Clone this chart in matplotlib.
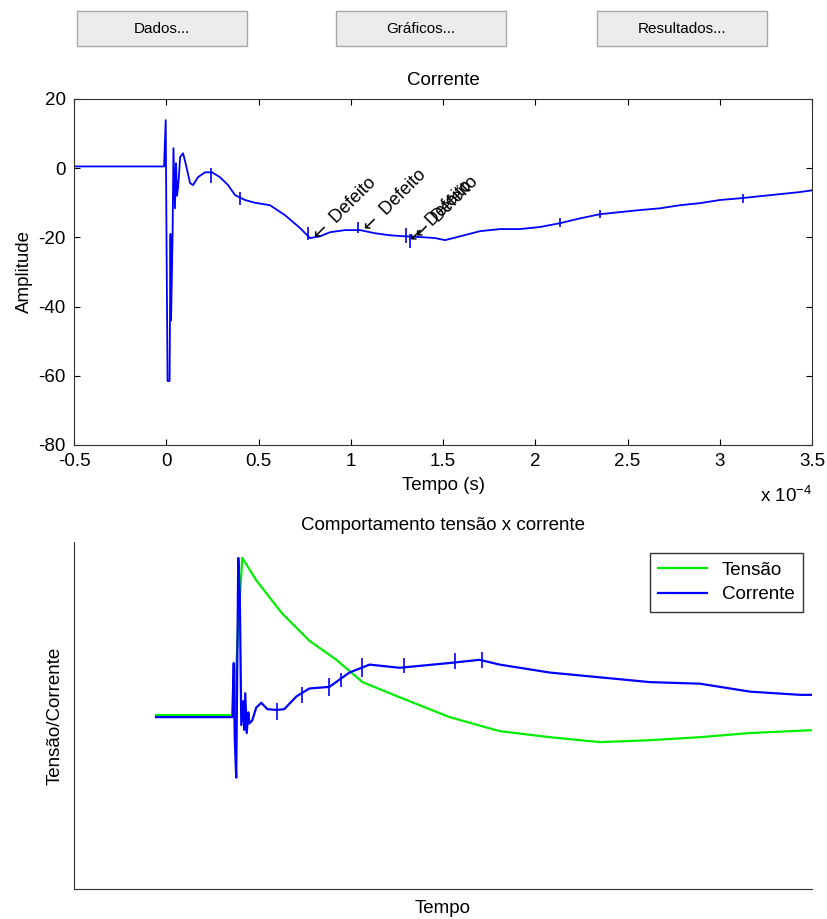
import numpy as np
import matplotlib
matplotlib.use("Agg")
import matplotlib.pyplot as plt
from matplotlib.patches import Rectangle

plt.rcParams['font.family'] = ['Liberation Sans', 'DejaVu Sans']
plt.rcParams['font.size'] = 13.5
plt.rcParams['axes.unicode_minus'] = False
plt.rcParams['mathtext.fontset'] = 'custom'
plt.rcParams['mathtext.rm'] = 'Liberation Sans'

# ---- top chart: corrente (tempo em unidades de 1e-4 s) ----
t_corr = [-0.5, -0.034, -0.012, -0.003, 0.001, 0.007, 0.018, 0.023, 0.026, 0.034,
          0.039, 0.047, 0.053, 0.058, 0.064, 0.069, 0.075, 0.091, 0.107, 0.129,
          0.145, 0.172, 0.210, 0.248, 0.291, 0.335, 0.373, 0.427, 0.481, 0.562,
          0.644, 0.725, 0.779, 0.833, 0.888, 0.969, 1.050, 1.131, 1.213, 1.294,
          1.375, 1.457, 1.511, 1.592, 1.701, 1.809, 1.917, 2.026, 2.134, 2.243,
          2.351, 2.459, 2.568, 2.676, 2.785, 2.893, 3.001, 3.110, 3.218, 3.327,
          3.435, 3.500]
a_corr = [0.5, 0.5, 0.5, 13.9, -18.0, -61.5, -61.5, -19.0, -44.0, -20.0,
          5.8, -11.6, 1.4, -8.0, -5.5, -2.0, 3.2, 4.3, 0.9, -4.3,
          -4.9, -2.6, -1.2, -1.2, -2.6, -4.9, -7.8, -9.2, -10.0, -10.7,
          -13.6, -17.3, -20.2, -19.7, -18.5, -17.9, -17.9, -18.8, -19.4, -19.7,
          -19.9, -20.2, -20.8, -19.7, -18.2, -17.6, -17.6, -17.0, -15.9, -14.5,
          -13.3, -12.7, -12.1, -11.6, -10.7, -10.1, -9.2, -8.7, -8.1, -7.5,
          -6.9, -6.4]

# pequenos picos de ruido na corrente
t_glitch = [0.243, 0.40, 0.768, 1.039, 1.30, 1.321, 2.134, 2.351, 3.126]
a_glitch_lo = [-4.3, -10.7, -20.8, -18.8, -21.7, -23.0, -17.0, -14.5, -10.0]
a_glitch_hi = [0.0, -7.0, -17.0, -15.6, -17.3, -19.0, -14.5, -12.0, -7.5]

# defeitos marcados
t_def = [0.795, 1.066, 1.32, 1.35]
a_def = [-20.8, -18.5, -21.7, -20.5]

x_ticks = [-0.5, 0, 0.5, 1, 1.5, 2, 2.5, 3, 3.5]
x_ticklabels = ['-0.5', '0', '0.5', '1', '1.5', '2', '2.5', '3', '3.5']
y_ticks = [-80, -60, -40, -20, 0, 20]

# ---- bottom chart: tensao x corrente (normalizado) ----
t_i = [-0.5, -0.035, -0.026, -0.020, -0.011, 0.0015, 0.011, 0.020, 0.032, 0.038,
       0.044, 0.053, 0.063, 0.069, 0.087, 0.111, 0.142, 0.179, 0.234, 0.282,
       0.356, 0.435, 0.557, 0.679, 0.802, 0.985, 1.290, 1.473, 1.595, 1.901,
       2.206, 2.511, 2.817, 3.122, 3.427, 3.501]
v_i = [0.0, 0.0, 0.34, -0.13, -0.38, 1.0, 0.76, -0.05, 0.10, -0.08,
       0.15, -0.10, 0.03, -0.04, -0.02, 0.06, 0.09, 0.05, 0.045, 0.05,
       0.13, 0.18, 0.19, 0.28, 0.33, 0.31, 0.34, 0.36, 0.33, 0.28,
       0.25, 0.22, 0.21, 0.16, 0.14, 0.14]
ti_glitch = [0.240, 0.392, 0.557, 0.630, 0.759, 1.015, 1.32, 1.49]
vi_glitch_lo = [-0.02, 0.09, 0.13, 0.19, 0.25, 0.28, 0.30, 0.31]
vi_glitch_hi = [0.09, 0.19, 0.245, 0.28, 0.37, 0.37, 0.40, 0.41]

t_v = [-0.5, -0.023, 0.0015, 0.026, 0.111, 0.270, 0.435, 0.600, 0.759, 0.985,
       1.290, 1.595, 1.901, 2.206, 2.511, 2.817, 3.122, 3.5]
v_v = [0.013, 0.013, 0.6, 1.0, 0.86, 0.65, 0.48, 0.36, 0.22, 0.125,
       0.0, -0.088, -0.126, -0.157, -0.145, -0.126, -0.10, -0.082]

fig = plt.figure(figsize=(8.27, 9.19), dpi=100)

# botoes
buttons = ['Dados...', 'Gráficos...', 'Resultados...']
btn_left = [77, 336, 597]
for lbl, x0 in zip(buttons, btn_left):
    r = Rectangle((x0 / 827, 1 - 46 / 919), 170 / 827, 35 / 919,
                  transform=fig.transFigure, facecolor='#ececec',
                  edgecolor='#a8a8a8', lw=1.0)
    fig.patches.append(r)
    fig.text((x0 + 85) / 827, 1 - 29 / 919, lbl, ha='center', va='center', fontsize=11)

# grafico de cima
ax1 = fig.add_axes([0.0895, 0.5158, 0.8924, 0.3765])
ax1.plot(t_corr, a_corr, color='#0000ff', lw=1.3)
ax1.vlines(t_glitch, a_glitch_lo, a_glitch_hi, color='#0000ff', lw=1.2)
for t, a in zip(t_def, a_def):
    ax1.text(t, a, '$\\leftarrow$ Defeito', rotation=45, rotation_mode='anchor',
             ha='left', va='center', fontsize=13, math_fontfamily='dejavusans')
ax1.set_xlim(-0.5, 3.5)
ax1.set_ylim(-80, 20)
ax1.set_xticks(x_ticks)
ax1.set_xticklabels(x_ticklabels)
ax1.set_yticks(y_ticks)
ax1.tick_params(direction='in', top=True, right=True, length=4, pad=6)
ax1.set_title('Corrente', fontsize=13.5, pad=10)
ax1.set_xlabel('Tempo (s)', labelpad=5)
ax1.set_ylabel('Amplitude', labelpad=3.5)
ax1.text(1.0, -0.145, 'x 10$^{-4}$', transform=ax1.transAxes,
         ha='right', va='center', fontsize=13.5)
for s in ax1.spines.values():
    s.set_color('#333333')

# grafico de baixo
ax2 = fig.add_axes([0.0895, 0.0326, 0.8924, 0.3776])
ax2.plot(t_v, v_v, color='#00ee00', lw=1.6, label='Tensão')
ax2.plot(t_i, v_i, color='#0000ff', lw=1.6, label='Corrente')
ax2.vlines(ti_glitch, vi_glitch_lo, vi_glitch_hi, color='#0000ff', lw=1.2)
ax2.set_xlim(-1.0, 3.5)
ax2.set_ylim(-1.08, 1.10)
ax2.set_xticks([])
ax2.set_yticks([])
ax2.spines['top'].set_visible(False)
ax2.spines['right'].set_visible(False)
ax2.spines['left'].set_color('#333333')
ax2.spines['bottom'].set_color('#333333')
ax2.set_title('Comportamento tensão x corrente', fontsize=13.5, pad=9)
ax2.set_xlabel('Tempo', labelpad=8)
ax2.set_ylabel('Tensão/Corrente', labelpad=7.5)
leg = ax2.legend(loc='upper right', bbox_to_anchor=(0.988, 0.968), fancybox=False,
                 edgecolor='black', fontsize=13.5, handlelength=2.6,
                 borderpad=0.45, labelspacing=0.4, borderaxespad=0)
leg.get_frame().set_linewidth(1.0)

fig.savefig('out.png', dpi=100)
